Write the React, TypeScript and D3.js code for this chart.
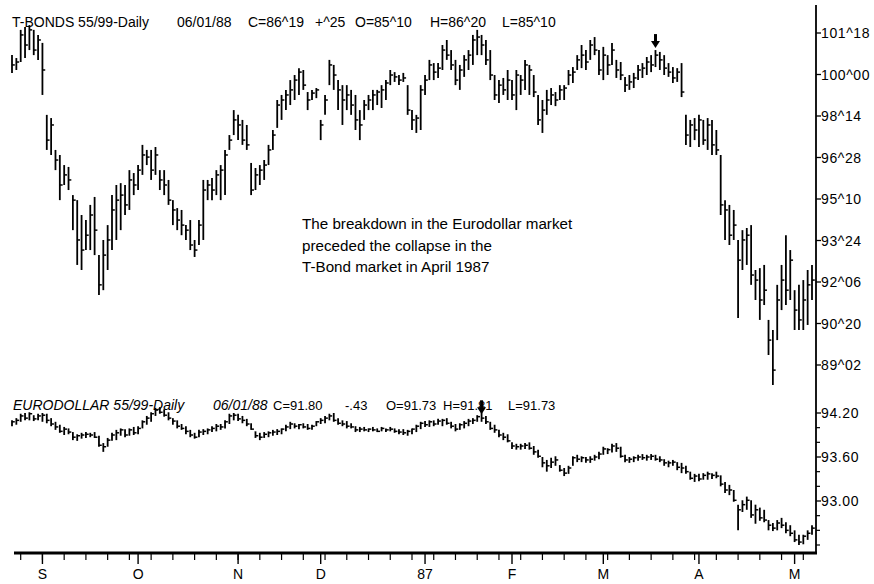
import React from 'react';
import * as d3 from 'd3';

// ---------- T-BONDS daily bars (high / low / close) ----------
const tbHigh = [
  100.73,100.62,101.68,101.79,101.86,101.68,101.49,101.19,98.48,98.36,
  97.16,96.97,96.59,96.52,95.46,95.27,94.71,94.52,95.09,95.39,
  93.20,93.77,94.33,95.46,95.84,95.91,95.84,96.40,96.29,96.59,
  97.35,97.16,97.16,97.27,96.40,96.40,96.03,95.27,94.97,94.90,
  94.33,94.52,93.77,94.52,96.03,96.03,96.10,96.40,96.59,97.16,
  97.72,98.66,98.48,98.29,98.10,96.67,96.48,96.59,96.78,97.35,
  97.91,99.04,99.23,99.42,99.79,99.98,100.24,100.17,99.34,99.42,
  99.49,98.29,99.23,100.55,100.36,99.79,99.60,99.60,99.42,99.23,
  98.66,99.04,99.23,99.42,99.42,99.60,99.79,100.17,100.09,99.98,
  100.06,99.60,98.66,98.48,99.60,99.98,100.55,100.43,100.43,101.11,
  101.30,100.92,100.55,100.36,100.73,100.92,101.49,101.68,101.49,101.30,
  100.92,99.98,99.79,99.87,100.17,99.79,100.17,99.98,100.55,100.36,
  99.98,99.23,99.04,99.42,99.49,99.34,99.60,99.60,100.17,100.28,
  100.73,101.11,100.92,101.30,101.41,100.92,101.04,100.73,101.19,100.55,
  100.47,99.91,99.98,100.06,100.36,100.43,100.66,100.73,100.92,100.85,
  100.73,100.43,100.28,100.24,100.43,98.48,98.29,98.36,98.48,98.29,
  98.36,98.29,97.91,96.97,95.27,95.09,94.90,93.77,94.14,94.22,
  94.33,92.64,92.71,92.83,90.76,90.38,92.08,92.83,93.95,93.39,
  91.88,92.08,92.26,92.64,92.83,
];
const tbLow = [
  100.06,100.17,100.47,100.62,100.92,100.73,100.55,99.23,97.16,96.97,
  96.40,95.27,95.84,95.65,94.14,92.83,92.64,93.39,93.39,93.20,
  91.70,91.88,92.64,93.39,93.77,94.14,94.71,94.90,95.46,95.65,
  96.22,96.59,96.03,96.22,95.65,95.46,95.09,94.33,94.14,93.95,
  93.77,93.39,93.13,93.58,93.77,95.27,95.27,95.46,95.27,95.46,
  97.16,97.72,97.53,97.35,97.16,95.46,95.65,95.84,96.03,96.59,
  97.16,97.99,98.29,98.66,98.85,99.04,99.23,99.42,98.66,99.04,
  99.11,97.53,98.48,99.60,99.42,98.66,98.10,98.66,98.48,97.91,
  97.53,98.29,98.66,98.66,98.85,98.74,99.04,99.60,99.72,99.60,
  99.72,98.48,97.91,97.80,97.91,99.23,99.79,99.79,99.87,100.17,
  100.55,100.17,99.60,99.42,99.91,100.17,100.36,100.73,100.73,100.36,
  99.79,99.04,98.93,99.23,99.04,99.04,98.66,99.23,99.42,99.23,
  99.15,98.10,97.80,98.48,98.85,98.81,99.04,99.04,99.60,99.68,
  100.17,100.24,100.17,100.55,100.73,99.98,99.79,99.98,100.36,99.87,
  99.79,99.34,99.42,99.49,99.79,99.87,99.98,100.09,100.28,100.17,
  99.98,99.91,99.68,99.72,99.15,97.35,97.27,97.53,97.27,97.35,
  97.16,96.97,96.97,94.71,93.77,93.58,93.77,90.83,92.64,92.83,
  92.08,91.51,90.76,91.32,89.44,88.31,90.00,91.13,91.32,91.51,
  90.38,90.38,90.38,90.57,91.51,
];
const tbClose = [
  100.36,100.47,101.49,101.11,101.68,100.92,101.30,100.17,97.53,98.10,
  96.78,95.84,96.22,96.03,95.27,93.77,93.39,93.95,94.71,94.14,
  92.08,93.20,93.77,94.90,95.27,95.46,95.09,96.03,95.84,96.40,
  96.97,96.89,96.40,96.97,96.03,95.84,95.27,94.90,94.52,94.33,
  94.14,93.58,93.39,94.33,95.65,95.84,95.65,96.22,96.40,96.97,
  97.53,98.29,98.10,97.53,97.35,95.65,96.22,96.40,96.59,97.16,
  97.72,98.85,99.04,99.23,99.42,99.79,100.09,99.60,99.04,99.30,
  99.42,98.10,99.04,100.36,99.98,99.42,99.04,99.23,98.85,98.29,
  98.10,98.85,99.04,99.23,99.34,99.42,99.68,99.98,99.91,99.79,
  99.87,98.66,98.29,98.36,99.42,99.79,100.36,100.09,100.24,100.92,
  100.73,100.36,99.79,100.17,100.55,100.73,101.30,101.41,101.11,100.55,
  99.98,99.23,99.60,99.42,99.79,99.23,99.98,99.79,100.36,100.17,
  99.34,98.29,98.66,99.04,99.23,99.04,99.42,99.49,99.98,100.09,
  100.55,100.73,100.47,101.11,100.92,100.17,100.73,100.36,100.92,100.17,
  99.98,99.60,99.72,99.87,100.17,100.24,100.47,100.36,100.73,100.55,
  100.24,100.09,99.87,100.09,99.34,97.72,98.10,97.91,98.29,97.53,
  98.10,97.35,97.16,95.09,94.90,93.95,94.33,93.01,93.77,93.95,
  92.45,92.26,91.51,91.88,90.00,88.87,91.51,92.26,91.88,93.01,
  91.13,90.76,91.51,92.08,92.26,
];

// ---------- EURODOLLAR daily bars (high / low / close) ----------
const edHigh = [
  94.10,94.13,94.19,94.20,94.21,94.17,94.19,94.20,94.19,94.13,
  94.08,94.04,94.01,93.99,93.94,93.91,93.93,93.94,93.93,93.94,
  93.89,93.79,93.86,93.93,93.97,93.99,93.98,93.99,94.01,94.02,
  94.10,94.16,94.21,94.27,94.28,94.25,94.21,94.13,94.10,94.05,
  94.02,93.97,93.93,93.97,93.98,93.99,94.02,94.05,94.05,94.10,
  94.19,94.20,94.19,94.16,94.12,94.06,93.95,93.93,93.94,93.95,
  93.97,93.98,93.99,94.04,94.08,94.06,94.05,94.06,94.05,94.04,
  94.09,94.13,94.16,94.19,94.20,94.13,94.10,94.09,94.06,94.02,
  94.01,94.01,93.99,94.01,93.99,94.01,93.99,94.01,93.99,93.98,
  93.98,93.97,93.99,94.04,94.08,94.09,94.10,94.10,94.12,94.12,
  94.13,94.08,94.05,94.06,94.09,94.12,94.13,94.17,94.21,94.16,
  94.08,94.04,93.97,93.93,93.91,93.80,93.78,93.78,93.79,93.80,
  93.75,93.70,93.60,93.56,93.59,93.61,93.49,93.45,93.48,93.61,
  93.63,93.61,93.60,93.61,93.63,93.67,93.74,93.72,93.78,93.79,
  93.74,93.63,93.60,93.61,93.63,93.64,93.63,93.64,93.63,93.61,
  93.57,93.55,93.56,93.53,93.52,93.48,93.40,93.37,93.37,93.38,
  93.40,93.38,93.40,93.35,93.26,93.22,93.15,92.95,93.01,93.06,
  93.01,92.95,92.91,92.88,92.74,92.70,92.74,92.77,92.71,92.67,
  92.60,92.54,92.54,92.60,92.67,
];
const edLow = [
  94.02,94.04,94.08,94.10,94.10,94.09,94.10,94.08,94.06,94.02,
  93.97,93.93,93.90,93.91,93.83,93.82,93.85,93.86,93.87,93.86,
  93.74,93.67,93.74,93.82,93.83,93.89,93.87,93.89,93.90,93.91,
  93.99,94.04,94.08,94.16,94.19,94.15,94.10,94.04,93.99,93.97,
  93.91,93.87,93.85,93.87,93.90,93.91,93.94,93.95,93.97,93.99,
  94.05,94.10,94.09,94.06,94.02,93.97,93.86,93.83,93.86,93.87,
  93.89,93.90,93.91,93.95,93.98,93.99,93.98,93.99,93.97,93.97,
  94.02,94.05,94.06,94.10,94.08,94.04,94.02,93.99,93.99,93.94,
  93.94,93.95,93.94,93.95,93.94,93.95,93.94,93.95,93.93,93.91,
  93.90,93.89,93.91,93.94,93.98,94.01,94.01,94.02,94.04,94.02,
  94.04,93.99,93.95,93.97,93.99,94.02,94.05,94.08,94.08,94.05,
  93.97,93.93,93.87,93.83,93.80,93.71,93.70,93.70,93.71,93.70,
  93.63,93.59,93.46,93.40,93.45,93.48,93.40,93.34,93.37,93.48,
  93.53,93.53,93.52,93.52,93.55,93.57,93.63,93.64,93.66,93.67,
  93.59,93.53,93.52,93.53,93.55,93.56,93.55,93.56,93.55,93.53,
  93.48,93.46,93.48,93.42,93.38,93.37,93.29,93.26,93.27,93.29,
  93.29,93.30,93.31,93.20,93.11,93.08,92.99,92.60,92.85,92.88,
  92.77,92.69,92.73,92.71,92.60,92.59,92.60,92.63,92.56,92.52,
  92.44,92.40,92.41,92.47,92.54,
];
const edClose = [
  94.08,94.10,94.16,94.13,94.19,94.12,94.16,94.17,94.10,94.05,
  94.01,93.95,93.98,93.94,93.87,93.89,93.90,93.91,93.90,93.87,
  93.76,93.74,93.83,93.90,93.93,93.97,93.90,93.97,93.93,93.99,
  94.08,94.13,94.19,94.24,94.21,94.17,94.13,94.09,94.02,93.99,
  93.95,93.90,93.87,93.94,93.95,93.97,93.99,94.02,94.01,94.08,
  94.16,94.17,94.12,94.10,94.05,93.98,93.89,93.87,93.91,93.93,
  93.94,93.95,93.98,94.01,94.05,94.02,94.04,94.01,93.99,94.02,
  94.08,94.10,94.13,94.16,94.10,94.06,94.05,94.02,94.01,93.97,
  93.98,93.97,93.98,93.97,93.95,93.99,93.97,93.98,93.95,93.94,
  93.93,93.95,93.98,94.02,94.06,94.04,94.08,94.05,94.09,94.10,
  94.06,94.02,93.98,94.04,94.06,94.09,94.10,94.15,94.13,94.08,
  93.99,93.97,93.90,93.87,93.82,93.75,93.74,93.75,93.76,93.72,
  93.67,93.61,93.52,93.48,93.53,93.56,93.42,93.38,93.45,93.59,
  93.57,93.59,93.56,93.57,93.60,93.64,93.71,93.70,93.75,93.72,
  93.61,93.56,93.57,93.59,93.60,93.59,93.60,93.61,93.57,93.56,
  93.52,93.52,93.53,93.46,93.45,93.40,93.31,93.34,93.30,93.35,
  93.37,93.35,93.34,93.23,93.15,93.15,93.01,92.88,92.95,93.01,
  92.81,92.88,92.77,92.74,92.67,92.63,92.70,92.67,92.60,92.56,
  92.47,92.44,92.52,92.56,92.63,
];

// ---------- axes ----------
const tbTickValues = [101.5625, 100, 98.4375, 96.875, 95.3125, 93.75, 92.1875, 90.625, 89.0625];
const tbTickLabels = ['101^18', '100^00', '98^14', '96^28', '95^10', '93^24', '92^06', '90^20', '89^02'];
const edTickValues = [94.2, 93.6, 93.0];
const edTickLabels = ['94.20', '93.60', '93.00'];
const edMinorTicks = [94.0, 93.8, 93.4, 93.2, 92.8, 92.6, 92.4];
const monthLabels = ['S', 'O', 'N', 'D', '87', 'F', 'M', 'A', 'M'];
const monthIndex = [7, 29, 52, 71, 95, 115, 136, 158, 180];
const tbArrowIndex = 148;
const edArrowIndex = 108;

const tbTitleParts = ['T-BONDS 55/99-Daily', '06/01/88', 'C=86^19', '+^25', 'O=85^10', 'H=86^20', 'L=85^10'];
const edTitleParts = ['EURODOLLAR 55/99-Daily', '06/01/88', 'C=91.80', '-.43', 'O=91.73', 'H=91.81', 'L=91.73'];
const noteLines = [
  'The breakdown in the Eurodollar market',
  'preceded the collapse in the',
  'T-Bond market in April 1987',
];

const FONT = '"Liberation Sans", Arial, Helvetica, sans-serif';

export default function App() {
  const W = 874;
  const H = 584;
  const n = tbHigh.length;
  const x = d3.scaleLinear().domain([0, n - 1]).range([12, 812]);
  const yT = d3.scaleLinear().domain([89.0625, 101.5625]).range([365, 33]);
  const yE = d3.scaleLinear().domain([93.0, 94.2]).range([501, 413]);
  const axisX = 816;
  const baseY = 553;
  const weekly = d3.range(2, n, 5);

  const bars = (hi: number[], lo: number[], cl: number[], y: d3.ScaleLinear<number, number>, key: string) =>
    hi.map((h, i) => {
      const xi = x(i);
      return (
        <g key={key + i}>
          <line x1={xi} x2={xi} y1={y(h)} y2={y(lo[i])} stroke="#000" strokeWidth={1.8} />
          <line x1={xi} x2={xi + 2.8} y1={y(cl[i])} y2={y(cl[i])} stroke="#000" strokeWidth={1.5} />
        </g>
      );
    });

  const arrow = (cx: number, tip: number, key: string) => (
    <g key={key}>
      <line x1={cx} x2={cx} y1={tip - 14} y2={tip - 6} stroke="#000" strokeWidth={3} />
      <path d={`M${cx - 4.5},${tip - 7} L${cx + 4.5},${tip - 7} L${cx},${tip} Z`} fill="#000" />
    </g>
  );

  const tbTitleX = [12, 177, 248, 315, 355, 430, 502];
  const edTitleX = [13, 213, 273, 345, 386, 443, 508];

  return (
    <svg width={W} height={H} viewBox={`0 0 ${W} ${H}`}
      style={{ position: 'absolute', left: 0, top: 0, background: '#fff' }}
      fontFamily={FONT}>
      <rect x={0} y={0} width={W} height={H} fill="#fff" />

      {/* titles */}
      {tbTitleParts.map((t, i) => (
        <text key={'tt' + i} x={tbTitleX[i]} y={27} fontSize={14} fill="#000">{t}</text>
      ))}
      {edTitleParts.map((t, i) => (
        <text key={'et' + i} x={edTitleX[i]} y={410} fontSize={i < 2 ? 14 : 13} fill="#000"
          fontStyle={i < 2 ? 'italic' : 'normal'}>{t}</text>
      ))}

      {/* annotation */}
      {noteLines.map((t, i) => (
        <text key={'n' + i} x={302} y={229 + i * 21.5} fontSize={15.2} fill="#000">{t}</text>
      ))}

      {/* bars */}
      {bars(tbHigh, tbLow, tbClose, yT, 'tb')}
      {bars(edHigh, edLow, edClose, yE, 'ed')}

      {/* arrows */}
      {arrow(x(tbArrowIndex), yT(tbHigh[tbArrowIndex]) - 2, 'a1')}
      {arrow(x(edArrowIndex), yE(edHigh[edArrowIndex]) + 2, 'a2')}

      {/* right axis */}
      <line x1={axisX} x2={axisX} y1={5} y2={baseY} stroke="#000" strokeWidth={1.8} />
      {tbTickValues.map((v, i) => (
        <g key={'tk' + i}>
          <line x1={axisX} x2={axisX + 5} y1={yT(v)} y2={yT(v)} stroke="#000" strokeWidth={1.3} />
          <text x={axisX + 5} y={yT(v) + 5} fontSize={14} letterSpacing={0.6} fill="#000">{tbTickLabels[i]}</text>
        </g>
      ))}
      {edTickValues.map((v, i) => (
        <g key={'ek' + i}>
          <line x1={axisX} x2={axisX + 5} y1={yE(v)} y2={yE(v)} stroke="#000" strokeWidth={1.3} />
          <text x={axisX + 5} y={yE(v) + 5} fontSize={14} letterSpacing={0.6} fill="#000">{edTickLabels[i]}</text>
        </g>
      ))}
      {edMinorTicks.map((v, i) => (
        <line key={'em' + i} x1={axisX} x2={axisX + 4} y1={yE(v)} y2={yE(v)} stroke="#000" strokeWidth={1.2} />
      ))}

      {/* bottom axis */}
      <line x1={14} x2={axisX + 1} y1={baseY} y2={baseY} stroke="#000" strokeWidth={3} />
      {weekly.map((i) => (
        <line key={'w' + i} x1={x(i)} x2={x(i)} y1={baseY} y2={baseY + 7} stroke="#000" strokeWidth={1.2} />
      ))}
      {monthIndex.map((mi, k) => (
        <g key={'m' + k}>
          <line x1={x(mi)} x2={x(mi)} y1={baseY} y2={baseY + 11} stroke="#000" strokeWidth={1.4} />
          <text x={x(mi)} y={579} fontSize={14} textAnchor="middle" fill="#000">{monthLabels[k]}</text>
        </g>
      ))}
    </svg>
  );
}
